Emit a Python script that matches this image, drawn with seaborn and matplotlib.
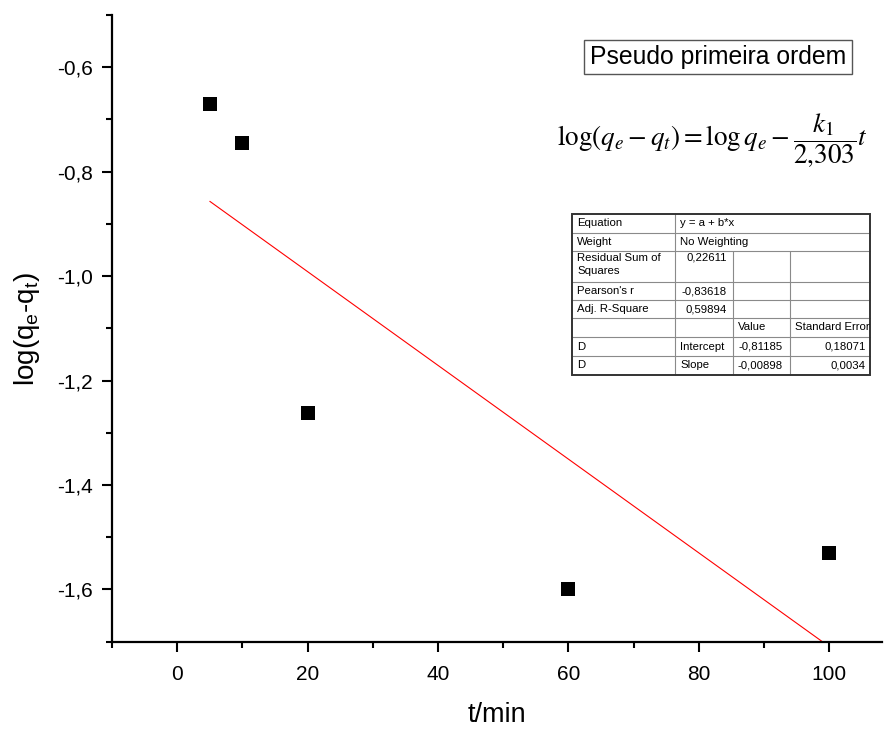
import numpy as np
import pandas as pd
import matplotlib
matplotlib.use("Agg")
import matplotlib.pyplot as plt
from matplotlib.ticker import MultipleLocator, FixedLocator
import seaborn as sns

# ---------------- data ----------------
t_min = [5, 10, 20, 60, 100]
log_qe_qt = [-0.671, -0.746, -1.263, -1.599, -1.531]

x_major_ticks = [0, 20, 40, 60, 80, 100]
x_tick_labels = ["0", "20", "40", "60", "80", "100"]
y_major_ticks = [-1.6, -1.4, -1.2, -1.0, -0.8, -0.6]
y_tick_labels = ["-1,6", "-1,4", "-1,2", "-1,0", "-0,8", "-0,6"]

x_label = "t/min"
y_label = r"log(q$_\mathregular{e}$-q$_\mathregular{t}$)"
title_box = "Pseudo primeira ordem"
equation = r"$\log(q_e - q_t) = \log q_e - \dfrac{k_1}{2{,}303}t$"

fit_labels = ["Equation", "Weight", "Residual Sum of\nSquares", "Pearson's r", "Adj. R-Square"]
fit_values = ["y = a + b*x", "No Weighting", "0,22611", "-0,83618", "0,59894"]
param_header = ["", "", "Value", "Standard Error"]
param_rows = [["D", "Intercept", "-0,81185", "0,18071"],
              ["D", "Slope", "-0,00898", "0,0034"]]

# ---------------- style ----------------
sns.set_style("white")
plt.rcParams["font.family"] = ["Liberation Sans", "DejaVu Sans"]
plt.rcParams["text.color"] = "black"
plt.rcParams["axes.labelcolor"] = "black"
plt.rcParams["xtick.color"] = "black"
plt.rcParams["ytick.color"] = "black"

W, H = 886, 731
fig = plt.figure(figsize=(W / 100, H / 100), dpi=100)
ax = fig.add_axes([112 / W, 1 - 641.7 / H, (881.5 - 112) / W, (641.7 - 15) / H])

df = pd.DataFrame({"t": t_min, "y": log_qe_qt})
sns.regplot(data=df, x="t", y="y", ax=ax, ci=None, truncate=True, marker="s",
            scatter_kws=dict(s=95, color="black", linewidths=0, alpha=1, zorder=3),
            line_kws=dict(color="red", lw=0.8, zorder=2))

ax.set_xlim(-10, 108)
ax.set_ylim(-1.70, -0.50)
ax.xaxis.set_major_locator(FixedLocator(x_major_ticks))
ax.set_xticklabels(x_tick_labels)
ax.yaxis.set_major_locator(FixedLocator(y_major_ticks))
ax.set_yticklabels(y_tick_labels)
ax.xaxis.set_minor_locator(MultipleLocator(10))
ax.yaxis.set_minor_locator(MultipleLocator(0.1))

for s in ["top", "right"]:
    ax.spines[s].set_visible(False)
for s in ["left", "bottom"]:
    ax.spines[s].set_linewidth(1.6)
    ax.spines[s].set_color("black")

ax.tick_params(which="major", direction="out", length=7.5, width=1.5, color="black",
               labelsize=15, pad=6, bottom=True, left=True)
ax.tick_params(axis="x", which="major", pad=9)
ax.tick_params(which="minor", direction="out", length=4, width=1.5, color="black",
               bottom=True, left=True)
ax.set_xlabel(x_label, fontsize=19.5, labelpad=13)
ax.set_ylabel(y_label, fontsize=20, labelpad=11)
ax.grid(False)

# ---------------- overlay (annotations, pixel coords) ----------------
ov = fig.add_axes([0, 0, 1, 1], zorder=10)
ov.set_xlim(0, W)
ov.set_ylim(H, 0)
ov.axis("off")
ov.patch.set_alpha(0)

ov.text(718, 57, title_box, fontsize=17.8, ha="center", va="center",
        bbox=dict(boxstyle="square,pad=0.22", fc="white", ec="#555555", lw=1.0))
ov.text(712, 140, equation, fontsize=19.5, ha="center", va="center", math_fontfamily="stix")

# table geometry
cx = [572, 675, 733, 790, 870]
ry = [214, 233, 251, 282, 300, 318, 337, 356, 375]
fs = 8.2
lc = "#8a8a8a"

ov.add_patch(plt.Rectangle((cx[0], ry[0]), cx[-1] - cx[0], ry[-1] - ry[0],
                           fc="white", ec="none", zorder=1))
for y in ry[1:-1]:
    ov.plot([cx[0], cx[-1]], [y, y], color=lc, lw=0.8, zorder=2)
ov.plot([cx[1], cx[1]], [ry[0], ry[-1]], color=lc, lw=0.8, zorder=2)
for x in cx[2:4]:
    ov.plot([x, x], [ry[2], ry[-1]], color=lc, lw=0.8, zorder=2)
ov.add_patch(plt.Rectangle((cx[0], ry[0]), cx[-1] - cx[0], ry[-1] - ry[0],
                           fc="none", ec="#333333", lw=1.4, zorder=3))

for i, (lab, val) in enumerate(zip(fit_labels, fit_values)):
    top, bot = ry[i], ry[i + 1]
    if "\n" in lab:
        ov.text(cx[0] + 5, top + 2, lab, fontsize=fs, ha="left", va="top", linespacing=1.35)
        ov.text(cx[2] - 6, top + 2, val, fontsize=fs, ha="right", va="top")
    else:
        ov.text(cx[0] + 5, (top + bot) / 2, lab, fontsize=fs, ha="left", va="center")
        if i < 2:
            ov.text(cx[1] + 5, (top + bot) / 2, val, fontsize=fs, ha="left", va="center")
        else:
            ov.text(cx[2] - 6, (top + bot) / 2, val, fontsize=fs, ha="right", va="center")

yh = (ry[5] + ry[6]) / 2
ov.text(cx[2] + 5, yh, param_header[2], fontsize=fs, ha="left", va="center")
ov.text(cx[3] + 5, yh, param_header[3], fontsize=fs, ha="left", va="center")

for j, row in enumerate(param_rows):
    yc = (ry[6 + j] + ry[7 + j]) / 2
    ov.text(cx[0] + 5, yc, row[0], fontsize=fs, ha="left", va="center")
    ov.text(cx[1] + 5, yc, row[1], fontsize=fs, ha="left", va="center")
    ov.text(cx[3] - 7, yc, row[2], fontsize=fs, ha="right", va="center")
    ov.text(cx[4] - 4, yc, row[3], fontsize=fs, ha="right", va="center")

fig.savefig("out.png", dpi=100)
